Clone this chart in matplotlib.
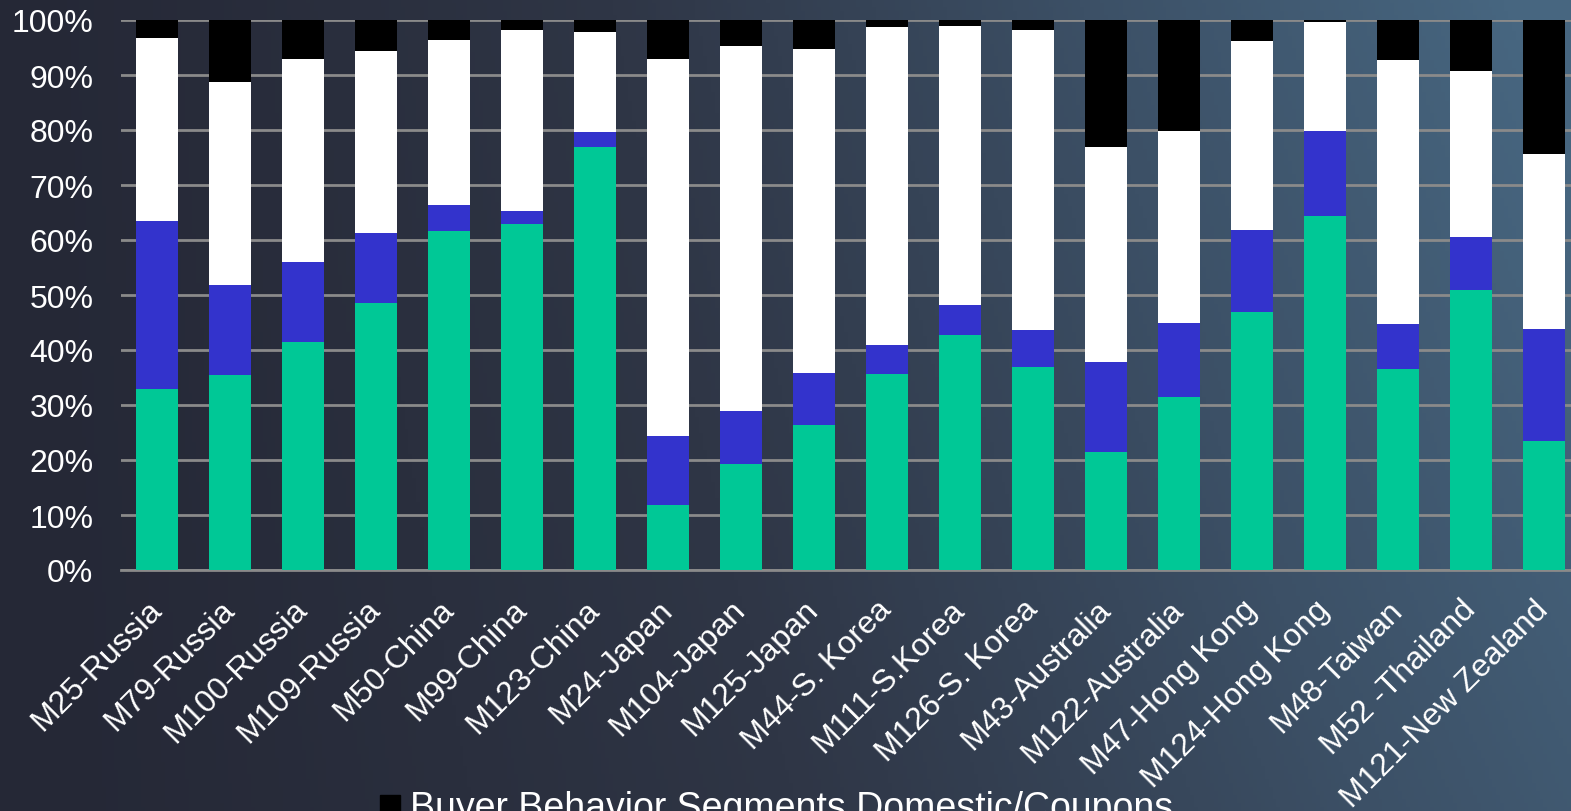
import numpy as np
import matplotlib
matplotlib.use("Agg")
import matplotlib.pyplot as plt
from matplotlib.lines import Line2D
from matplotlib.colors import LinearSegmentedColormap

plt.rcParams['font.family'] = ['Liberation Sans', 'DejaVu Sans']

markets = ["M25-Russia", "M79-Russia", "M100-Russia", "M109-Russia", "M50-China",
           "M99-China", "M123-China", "M24-Japan", "M104-Japan", "M125-Japan",
           "M44-S. Korea", "M111-S.Korea", "M126-S. Korea", "M43-Australia",
           "M122-Australia", "M47-Hong Kong", "M124-Hong Kong", "M48-Taiwan",
           "M52 -Thailand", "M121-New Zealand"]

# segment shares (%), bottom to top
seg_green = [33.0, 35.5, 41.4, 48.6, 61.7, 63.0, 77.0, 11.9, 19.2, 26.4,
             35.7, 42.8, 37.0, 21.4, 31.5, 47.0, 64.4, 36.6, 51.0, 23.5]
seg_blue = [30.4, 16.4, 14.6, 12.7, 4.6, 2.2, 2.7, 12.5, 9.8, 9.5,
            5.3, 5.3, 6.7, 16.5, 13.5, 14.8, 15.4, 8.1, 9.6, 20.4]
seg_white = [33.3, 36.9, 37.0, 33.0, 30.0, 33.0, 18.2, 68.6, 66.2, 58.9,
             57.7, 50.8, 54.5, 39.1, 34.8, 34.4, 19.8, 48.0, 30.1, 31.7]
seg_black = [100 - g - b - w for g, b, w in zip(seg_green, seg_blue, seg_white)]

yticks = [0, 10, 20, 30, 40, 50, 60, 70, 80, 90, 100]
ytick_labels = [f"{v}%" for v in yticks]
legend_label = "Buyer Behavior Segments Domestic/Coupons"

W, H = 1571, 812
fig = plt.figure(figsize=(W / 100, H / 100), dpi=100)

# dark slate backdrop fading to blue-grey towards the upper right
bg = fig.add_axes([0, 0, 1, 1], zorder=-10)
bg.set_axis_off()
xx, yy = np.meshgrid(np.linspace(0, 1, 400), np.linspace(0, 1, 200))
t = np.clip(0.8 * xx ** 1.3 + 0.25 * yy * xx, 0, 1)
cmap = LinearSegmentedColormap.from_list("bgm", ["#252836", "#2f3646", "#3c5066", "#476680"])
bg.imshow(t, cmap=cmap, origin="lower", aspect="auto", extent=[0, 1, 0, 1], vmin=0, vmax=1)

# axes: left edge x=120.5, 0% at y=571, 100% at y=21, 73 px per category
left_px, step_px = 120.5, 73.0
n = len(markets)
ax = fig.add_axes([left_px / W, (H - 571) / H, n * step_px / W, 550 / H])
ax.set_facecolor("none")
ax.patch.set_alpha(0)

x = np.arange(n)
bw = 0.575
bottom = np.zeros(n)
for vals, col in [(seg_green, "#00C896"), (seg_blue, "#3333CC"),
                  (seg_white, "#FFFFFF"), (seg_black, "#000000")]:
    ax.bar(x, vals, bw, bottom=bottom, color=col, zorder=3,
           edgecolor="none", linewidth=0)
    bottom += np.array(vals)

ax.set_xlim(-0.5, n - 0.5)
ax.set_ylim(0, 100)
ax.set_yticks(yticks)
ax.set_yticklabels(ytick_labels)
ax.yaxis.grid(True, color="#8a8a8a", linewidth=2, zorder=0)
ax.set_axisbelow(True)
for s in ["left", "right", "top"]:
    ax.spines[s].set_visible(False)
ax.spines["bottom"].set_color("#8a8a8a")
ax.spines["bottom"].set_linewidth(2)
ax.tick_params(axis="y", length=0, pad=19.5, labelsize=23, labelcolor="white")
ax.tick_params(axis="x", length=0, pad=25, labelsize=23, labelcolor="white")
ax.set_xticks(x)
ax.set_xticklabels(markets, rotation=45, ha="right", va="center",
                   rotation_mode="anchor")

handle = Line2D([], [], linestyle="none", marker="s", markersize=14,
                markerfacecolor="black", markeredgecolor="black")
fig.legend([handle], [legend_label], loc="upper left",
           bbox_to_anchor=(378 / W, 1 - 791 / H), frameon=False,
           fontsize=27, labelcolor="white", handlelength=0.65,
           handletextpad=0.2, borderpad=0, borderaxespad=0)

fig.savefig("out.png", dpi=100)
